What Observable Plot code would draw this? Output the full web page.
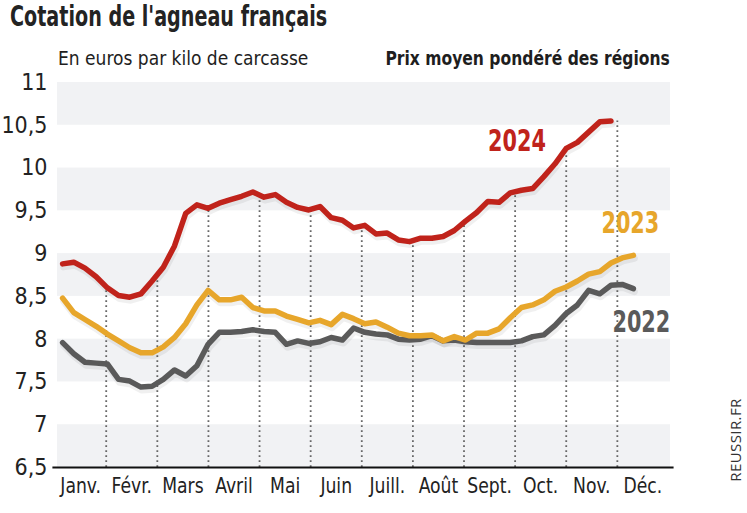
<!DOCTYPE html>
<html>
<head>
<meta charset="utf-8">
<script src="https://cdn.jsdelivr.net/npm/d3@7"></script>
<script src="https://cdn.jsdelivr.net/npm/@observablehq/plot@0.6"></script>
<style>
  body { margin: 0; background: #fff; }
  #wrap { position: relative; width: 747px; height: 513px; overflow: hidden; background: #fff;
          font-family: "DejaVu Sans Condensed", "DejaVu Sans", sans-serif; color: #222; }
  #wrap svg { position: absolute; left: 0; top: 0; }
  .txt { position: absolute; white-space: nowrap; line-height: 1; }
  #title { left: 10px; top: 3px; font-size: 28px; font-weight: 700; color: #232323;
           transform: scaleX(0.76); transform-origin: 0 0; }
  #sub1 { left: 58px; top: 48px; font-size: 20px; font-weight: 400; color: #1e1e1e;
          transform: scaleX(0.95); transform-origin: 0 0; }
  #sub2 { right: 77px; top: 48px; font-size: 20px; font-weight: 700; color: #1e1e1e;
          transform: scaleX(0.865); transform-origin: 100% 0; }
  #src { left: 735px; top: 440px; font-family: "Open Sans", "DejaVu Sans", sans-serif; font-size: 15px;
         transform: translate(-50%, -50%) rotate(-90deg); color: #333; letter-spacing: 0.4px; }
</style>
</head>
<body>
<div id="wrap">
  <div class="txt" id="title">Cotation de l'agneau français</div>
  <div class="txt" id="sub1">En euros par kilo de carcasse</div>
  <div class="txt" id="sub2">Prix moyen pondéré des régions</div>
  <div class="txt" id="src">REUSSIR.FR</div>
</div>
<script>
// ---- Data (weekly quotations, €/kg carcass) ----
const years = ["2022", "2023", "2024"];
const values2022 = [7.96, 7.83, 7.73, 7.72, 7.71, 7.53, 7.51, 7.44, 7.45, 7.53,
  7.64, 7.57, 7.69, 7.94, 8.08, 8.08, 8.09, 8.11, 8.09, 8.08,
  7.94, 7.98, 7.95, 7.97, 8.02, 7.99, 8.13, 8.08, 8.06, 8.05,
  8.00, 7.99, 8.00, 8.04, 7.98, 7.99, 7.97, 7.96, 7.96, 7.96,
  7.96, 7.98, 8.03, 8.05, 8.16, 8.30, 8.40, 8.57, 8.53, 8.63,
  8.64, 8.59];
const values2023 = [8.48, 8.31, 8.23, 8.15, 8.06, 7.98, 7.90, 7.84, 7.84, 7.91,
  8.02, 8.18, 8.40, 8.57, 8.46, 8.46, 8.49, 8.37, 8.33, 8.33,
  8.27, 8.23, 8.19, 8.22, 8.17, 8.29, 8.24, 8.18, 8.20, 8.14,
  8.07, 8.04, 8.04, 8.05, 7.98, 8.03, 7.99, 8.07, 8.07, 8.12,
  8.25, 8.37, 8.40, 8.46, 8.56, 8.61, 8.68, 8.76, 8.79, 8.89,
  8.95, 8.98];
const values2024 = [8.88, 8.90, 8.83, 8.73, 8.60, 8.51, 8.49, 8.53, 8.68, 8.84,
  9.09, 9.47, 9.57, 9.53, 9.59, 9.63, 9.67, 9.72, 9.66, 9.69,
  9.60, 9.54, 9.51, 9.55, 9.42, 9.39, 9.30, 9.33, 9.23, 9.24,
  9.16, 9.14, 9.18, 9.18, 9.20, 9.27, 9.38, 9.48, 9.61, 9.60,
  9.71, 9.74, 9.76, 9.90, 10.05, 10.23, 10.30, 10.42, 10.54, 10.55];
const months = ["Janv.", "Févr.", "Mars", "Avril", "Mai", "Juin", "Juill.", "Août", "Sept.", "Oct.", "Nov.", "Déc."];
const yTicks = [6.5, 7, 7.5, 8, 8.5, 9, 9.5, 10, 10.5, 11];

// ---- Styles ----
const colors = {"2022": "#5a5a5a", "2023": "#e7a62b", "2024": "#c0231b"};
const labelOffsets = {"2022": [8, 34], "2023": [-3, -32], "2024": [-94, 20]};
const FONT = '"DejaVu Sans Condensed", "DejaVu Sans", sans-serif';

// week index -> position in months on the chart's calendar axis
const weekToMonth = i => (i + 0.67) / 4.567;

const series = {"2022": values2022, "2023": values2023, "2024": values2024};
const data = years.flatMap(y => series[y].map((v, i) => ({year: y, m: weekToMonth(i), v})));

// dotted month separators rise to the 2024 curve
const red = data.filter(d => d.year === "2024");
const redAt = m => {
  if (m <= red[0].m) return red[0].v;
  if (m >= red[red.length - 1].m) return red[red.length - 1].v;
  const j = d3.bisector(d => d.m).right(red, m);
  const a = red[j - 1], b = red[j];
  return a.v + (b.v - a.v) * (m - a.m) / (b.m - a.m);
};
const boundaries = d3.range(1, 12).map(k => ({m: k, v: redAt(k)}));

// alternating bands
const bands = [[6.5, 7], [7.5, 8], [8.5, 9], [9.5, 10], [10.5, 11]];

const labels = years.map(y => {
  const arr = data.filter(d => d.year === y);
  const last = arr[arr.length - 1];
  return {year: y, m: last.m, v: last.v, dx: labelOffsets[y][0], dy: labelOffsets[y][1]};
});

const xDomain = [0.047, 12.04];

const chart = Plot.plot({
  width: 747,
  height: 513,
  marginLeft: 57,
  marginRight: 77,
  marginTop: 82,
  marginBottom: 46,
  x: {domain: xDomain, axis: null},
  y: {domain: [6.5, 11], axis: null},
  style: {fontFamily: FONT, background: "transparent", color: "#222"},
  marks: [
    Plot.rect(bands, {x1: xDomain[0], x2: xDomain[1], y1: d => d[0], y2: d => d[1], fill: "#f1f2f4"}),
    Plot.ruleX(boundaries, {x: "m", y1: 6.5, y2: "v", stroke: "#666", strokeWidth: 1.8, strokeDasharray: "1.8,3.2"}),
    Plot.ruleY([6.5], {x1: xDomain[0] - 0.09, x2: xDomain[1] + 0.07, stroke: "#111", strokeWidth: 2}),
    Plot.axisY({ticks: yTicks, tickSize: 0, tickPadding: 10, fontSize: 23, label: null,
                tickFormat: d => String(d).replace(".", ",")}),
    Plot.text(months, {x: (d, i) => i + 0.5, frameAnchor: "bottom", dy: 25, text: d => d, fontSize: 22, fill: "#222"}),
    Plot.line(data, {x: "m", y: "v", z: "year", stroke: "#000", strokeOpacity: 0.06, strokeWidth: 7, dy: 3, dx: 1}),
    Plot.line(data, {x: "m", y: "v", z: "year", stroke: d => colors[d.year], strokeWidth: 5.5,
                     strokeLinejoin: "round", strokeLinecap: "round"}),
    ...labels.map(l => Plot.text([l], {x: "m", y: "v", text: "year", dx: l.dx, dy: l.dy, fill: colors[l.year],
                                       fontSize: 30, fontWeight: 700}))
  ]
});

// condense glyphs horizontally to mimic the narrow typeface of the original
d3.select(chart).selectAll("text").each(function() {
  const s = this.textContent.trim();
  let k = null;
  if (months.includes(s)) k = 0.87;
  else if (years.includes(s)) k = 0.77;
  if (k === null) return;
  const t = this.getAttribute("transform");
  if (t) {
    this.setAttribute("transform", t + ` scale(${k},1)`);
  } else {
    const x = +(this.getAttribute("x") || 0), y = +(this.getAttribute("y") || 0);
    this.setAttribute("x", 0); this.setAttribute("y", 0);
    this.setAttribute("transform", `translate(${x},${y}) scale(${k},1)`);
  }
});

document.getElementById("wrap").prepend(chart);
</script>
</body>
</html>
